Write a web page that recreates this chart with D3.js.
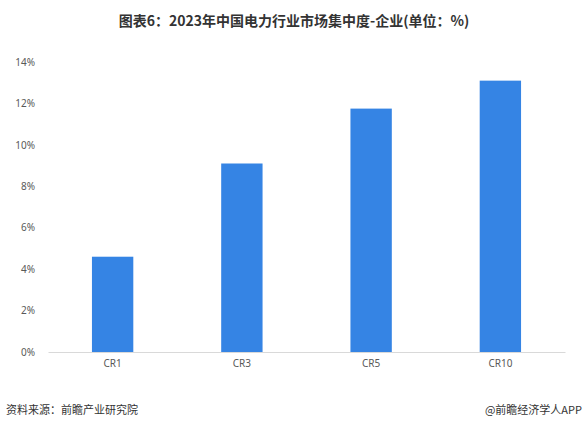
<!DOCTYPE html>
<html><head><meta charset="utf-8">
<script src="https://cdn.jsdelivr.net/npm/d3@7"></script>
<style>body{margin:0;background:#fff;font-family:"Microsoft YaHei","Noto Sans CJK SC",sans-serif;}</style>
</head><body><div id="chart"></div>
<script>
var categories = ["CR1", "CR3", "CR5", "CR10"];
var values = [4.6, 9.1, 11.75, 13.1];
var yTicks = [0, 2, 4, 6, 8, 10, 12, 14];

var svg = d3.select("#chart").append("svg").attr("width", 588).attr("height", 432);
var plotLeft = 48, plotRight = 565, plotTop = 62, plotBottom = 352;

svg.append("text").attr("x", 294).attr("y", 26).attr("text-anchor", "middle")
  .attr("font-size", 14).attr("font-weight", "bold").attr("fill", "#333")
  .text("图表6：2023年中国电力行业市场集中度-企业(单位：%)");

var x = d3.scaleBand().domain(categories).range([plotLeft, plotRight]).paddingInner(0.68).paddingOuter(0.34);
var y = d3.scaleLinear().domain([0, 14]).range([plotBottom, plotTop]);

var yAxis = svg.append("g").attr("transform", "translate(" + (plotLeft - 10) + ",0)")
  .call(d3.axisLeft(y).tickValues(yTicks).tickSize(0).tickFormat(d => d + "%"));
yAxis.select(".domain").remove();
yAxis.selectAll("text").attr("font-size", 10).attr("fill", "#595959").attr("font-family", "Noto Sans, sans-serif");

svg.selectAll("rect.bar").data(values).enter().append("rect")
  .attr("x", (d, i) => x(categories[i])).attr("width", x.bandwidth())
  .attr("y", d => y(d)).attr("height", d => plotBottom - y(d)).attr("fill", "#3584e4");

var xAxis = svg.append("g").attr("transform", "translate(0," + plotBottom + ")")
  .call(d3.axisBottom(x).tickSize(0).tickPadding(8));
xAxis.select(".domain").attr("stroke", "#d9d9d9");
xAxis.selectAll("text").attr("font-size", 10).attr("fill", "#595959").attr("font-family", "Noto Sans, sans-serif");

svg.append("text").attr("x", 6).attr("y", 414).attr("font-size", 11).attr("fill", "#333").text("资料来源：前瞻产业研究院");
svg.append("text").attr("x", 582).attr("y", 414).attr("text-anchor", "end").attr("font-size", 11).attr("fill", "#333").text("@前瞻经济学人APP");
</script></body></html>
